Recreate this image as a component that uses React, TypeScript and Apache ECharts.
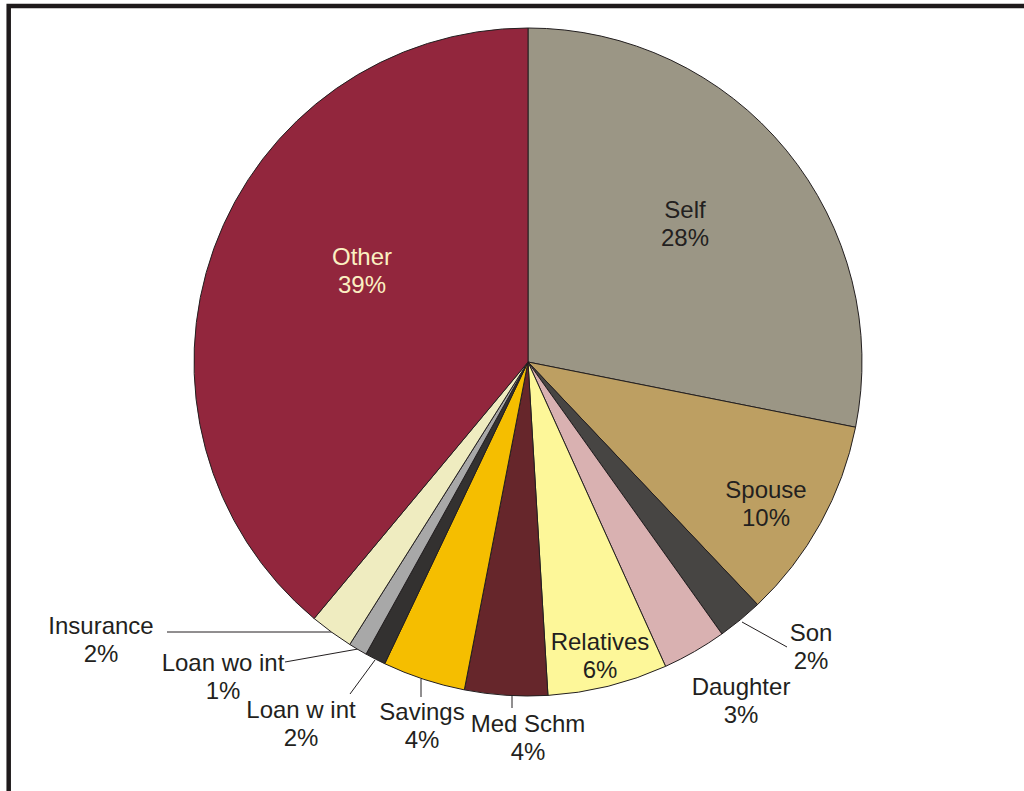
import React, { useEffect, useRef } from "react";
import * as echarts from "echarts";

// Data
const categories = [
  "Self", "Spouse", "Son", "Daughter", "Relatives", "Med Schm",
  "Savings", "Loan w int", "Loan wo int", "Insurance", "Other",
];
const shares = [28.1, 9.8, 2.2, 3.1, 5.8, 4.0, 4.0, 1.0, 0.9, 2.1, 38.9];
const pctLabels = ["28%", "10%", "2%", "3%", "6%", "4%", "4%", "2%", "1%", "2%", "39%"];

// Styles
const sliceColors = [
  "#9b9685", "#bd9f62", "#474543", "#d9b1b1", "#fdf799", "#66262b",
  "#f5be00", "#333130", "#a8a8a8", "#efecc0", "#92263d",
];
const labelColors = [
  "#231f20", "#231f20", "#231f20", "#231f20", "#231f20", "#231f20",
  "#231f20", "#231f20", "#231f20", "#231f20", "#fbf0c2",
];

// Label layout (text block centres and leader lines), in pixels
const labelCentres: number[][] = [
  [685, 223], [766, 503], [811, 646], [741, 700], [600, 655], [528, 737],
  [422, 725], [301, 723], [223, 676], [101, 639], [362, 270],
];
const leaderLines: (number[][] | null)[] = [
  null, null,
  [[742, 622], [787, 647]],
  null, null,
  [[512, 696], [512, 708]],
  [[421, 679], [421, 697]],
  [[375, 660], [350, 694]],
  [[358, 649], [285, 662]],
  [[332, 632], [167, 632]],
  null,
];

export default function App() {
  const ref = useRef<HTMLDivElement>(null);

  useEffect(() => {
    if (!ref.current) return;
    const chart = echarts.init(ref.current, undefined, { renderer: "svg" });

    const data = categories.map((name, i) => ({
      name,
      value: shares[i],
      itemStyle: { color: sliceColors[i] },
      label: { color: labelColors[i] },
      labelLine: leaderLines[i]
        ? { show: true, length: 10, length2: 0, lineStyle: { color: "#231f20", width: 1 } }
        : { show: false },
    }));

    chart.setOption({
      animation: false,
      backgroundColor: "#ffffff",
      graphic: [
        {
          type: "rect",
          shape: { x: 8.7, y: 6, width: 1060, height: 840 },
          style: { fill: "none", stroke: "#1e1a1b", lineWidth: 4.5 },
          silent: true,
        },
      ],
      series: [
        {
          type: "pie",
          center: [528, 362],
          radius: 334,
          startAngle: 90,
          clockwise: true,
          avoidLabelOverlap: false,
          silent: true,
          itemStyle: { borderColor: "#231f20", borderWidth: 1 },
          label: {
            show: true,
            position: "outside",
            fontFamily: "Liberation Sans, Arial, sans-serif",
            fontSize: 24,
            lineHeight: 28,
            align: "center",
            formatter: (p: any) => `${p.name}\n${pctLabels[p.dataIndex]}`,
          },
          labelLayout: (params: any) => {
            const i = params.dataIndex;
            const c = labelCentres[i];
            const out: any = {
              x: c[0],
              y: c[1],
              align: "center",
              verticalAlign: "middle",
            };
            if (leaderLines[i]) out.labelLinePoints = leaderLines[i];
            return out;
          },
          data,
        },
      ],
    });

    return () => chart.dispose();
  }, []);

  return (
    <div
      ref={ref}
      style={{ position: "fixed", left: 0, top: 0, width: 1024, height: 791 }}
    />
  );
}
